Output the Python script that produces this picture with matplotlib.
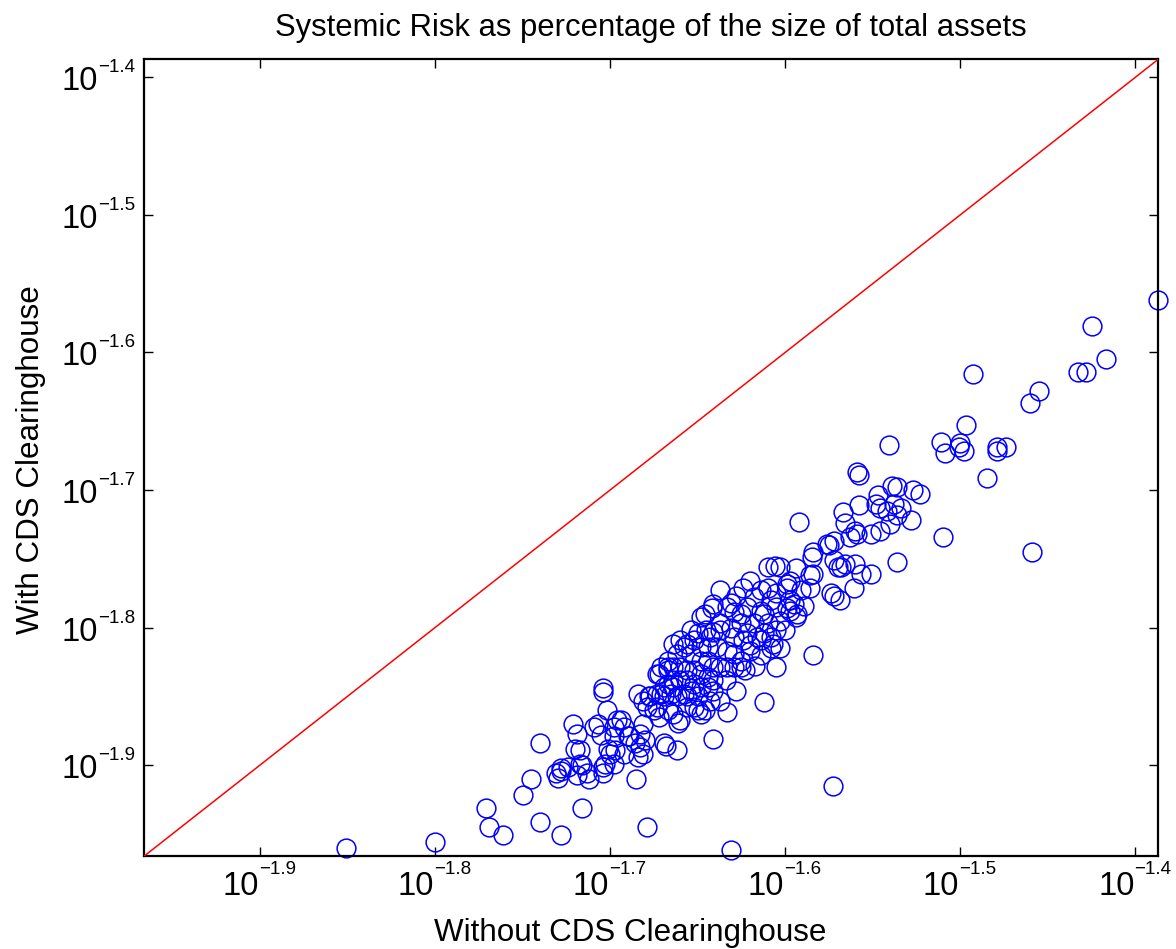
import numpy as np
import matplotlib
matplotlib.use("Agg")
import matplotlib.pyplot as plt
from matplotlib.ticker import FixedLocator, NullLocator, NullFormatter

plt.rcParams['font.family'] = ['Liberation Sans', 'DejaVu Sans']

# log10 of systemic risk, without (x) / with (y) the clearinghouse
x_exp = [
    -1.851, -1.800, -1.771, -1.769, -1.761, -1.750, -1.745, -1.740, -1.740, -1.728,
    -1.716, -1.679, -1.721, -1.719, -1.720, -1.717, -1.716, -1.731, -1.728, -1.730,
    -1.719, -1.712, -1.704, -1.704, -1.702, -1.707, -1.705, -1.698, -1.694, -1.701,
    -1.697, -1.703, -1.704, -1.698, -1.689, -1.686, -1.684, -1.685, -1.683, -1.680,
    -1.681, -1.684, -1.678, -1.668, -1.662, -1.672, -1.667, -1.671, -1.664, -1.658,
    -1.661, -1.650, -1.675, -1.672,
    # dense band
    -1.592, -1.567, -1.566, -1.572, -1.575, -1.584, -1.585, -1.572, -1.570, -1.566,
    -1.572, -1.569, -1.574, -1.584, -1.605, -1.612, -1.633, -1.641, -1.610, -1.606,
    -1.594, -1.586, -1.597, -1.599, -1.624, -1.614, -1.610, -1.605, -1.591, -1.586,
    -1.595, -1.589, -1.593, -1.594, -1.599, -1.605, -1.618, -1.622, -1.612, -1.625,
    -1.629, -1.631, -1.633, -1.641, -1.646, -1.642, -1.648, -1.637, -1.625, -1.618,
    -1.610, -1.603, -1.605, -1.612, -1.616, -1.608, -1.608, -1.603, -1.607, -1.622,
    -1.624, -1.629, -1.631, -1.637, -1.641, -1.643, -1.650, -1.652, -1.656, -1.648,
    -1.644, -1.639, -1.633, -1.629, -1.625, -1.625, -1.629, -1.633, -1.637, -1.641,
    -1.644, -1.648, -1.654, -1.658, -1.664, -1.662, -1.667, -1.671, -1.673, -1.667,
    -1.664, -1.660, -1.656, -1.652, -1.648, -1.644, -1.641, -1.644, -1.641, -1.648,
    -1.652, -1.656, -1.660, -1.664, -1.667, -1.669, -1.673, -1.677, -1.681, -1.679,
    -1.673, -1.667, -1.664, -1.660, -1.656, -1.652, -1.648, -1.646, -1.650, -1.656,
    -1.662, -1.665, -1.669, -1.709, -1.696, -1.692, -1.698, -1.690, -1.683, -1.681,
    -1.669, -1.692, -1.700, -1.704, -1.717, -1.724, -1.728, -1.713,
    -1.620, -1.614, -1.623, -1.617, -1.634, -1.628, -1.637, -1.654, -1.643, -1.614,
    -1.608, -1.620, -1.628, -1.637, -1.645, -1.654, -1.660, -1.614, -1.620, -1.600,
    # upper part of the band
    -1.460, -1.497, -1.511, -1.509, -1.500, -1.498, -1.501, -1.479, -1.474, -1.479,
    -1.485, -1.541, -1.558, -1.559, -1.510, -1.459, -1.536, -1.558, -1.547, -1.539,
    -1.536, -1.527, -1.523, -1.548, -1.546, -1.542, -1.538, -1.534, -1.536, -1.528,
    -1.540, -1.546, -1.551, -1.559, -1.560, -1.563, -1.576, -1.568, -1.560, -1.557,
    -1.551, -1.561, -1.584, -1.603, -1.599, -1.597, -1.597,
    # outliers
    -1.387, -1.425, -1.417, -1.428, -1.433, -1.455, -1.493, -1.573, -1.631,
]
y_exp = [
    -1.960, -1.956, -1.931, -1.945, -1.951, -1.922, -1.910, -1.884, -1.941, -1.951,
    -1.931, -1.945, -1.870, -1.877, -1.888, -1.889, -1.900, -1.906, -1.902, -1.909,
    -1.907, -1.910, -1.847, -1.844, -1.860, -1.870, -1.878, -1.872, -1.867, -1.888,
    -1.889, -1.899, -1.906, -1.899, -1.879, -1.884, -1.894, -1.910, -1.877, -1.882,
    -1.870, -1.848, -1.850, -1.886, -1.889, -1.834, -1.829, -1.848, -1.843, -1.848,
    -1.869, -1.860, -1.860, -1.865,
    # dense band
    -1.723, -1.716, -1.724, -1.737, -1.740, -1.745, -1.749, -1.751, -1.756, -1.754,
    -1.777, -1.780, -1.775, -1.820, -1.829, -1.854, -1.861, -1.881, -1.756, -1.755,
    -1.757, -1.762, -1.766, -1.771, -1.771, -1.773, -1.771, -1.775, -1.773, -1.771,
    -1.783, -1.784, -1.790, -1.792, -1.786, -1.785, -1.778, -1.785, -1.790, -1.790,
    -1.789, -1.782, -1.785, -1.783, -1.790, -1.786, -1.792, -1.797, -1.797, -1.797,
    -1.797, -1.795, -1.802, -1.804, -1.807, -1.807, -1.815, -1.815, -1.812, -1.804,
    -1.809, -1.807, -1.800, -1.802, -1.803, -1.807, -1.804, -1.809, -1.812, -1.814,
    -1.814, -1.814, -1.817, -1.819, -1.824, -1.829, -1.829, -1.829, -1.829, -1.829,
    -1.824, -1.824, -1.819, -1.814, -1.812, -1.819, -1.824, -1.829, -1.834, -1.831,
    -1.829, -1.829, -1.831, -1.831, -1.834, -1.836, -1.838, -1.843, -1.846, -1.843,
    -1.841, -1.838, -1.838, -1.838, -1.841, -1.843, -1.848, -1.850, -1.853, -1.858,
    -1.858, -1.860, -1.863, -1.867, -1.858, -1.858, -1.863, -1.860, -1.850, -1.850,
    -1.850, -1.848, -1.850, -1.872, -1.867, -1.872, -1.879, -1.879, -1.887, -1.892,
    -1.884, -1.892, -1.892, -1.901, -1.899, -1.901, -1.904, -1.906,
    -1.817, -1.820, -1.831, -1.828, -1.838, -1.846, -1.853, -1.846, -1.853, -1.788,
    -1.780, -1.766, -1.777, -1.773, -1.802, -1.802, -1.809, -1.809, -1.813, -1.802,
    # upper part of the band
    -1.637, -1.653, -1.665, -1.673, -1.666, -1.672, -1.669, -1.669, -1.669, -1.672,
    -1.691, -1.667, -1.689, -1.687, -1.734, -1.745, -1.752, -1.711, -1.704, -1.697,
    -1.698, -1.700, -1.703, -1.710, -1.713, -1.715, -1.710, -1.713, -1.718, -1.722,
    -1.725, -1.730, -1.732, -1.732, -1.730, -1.734, -1.739, -1.756, -1.754, -1.761,
    -1.761, -1.771, -1.761, -1.756, -1.768, -1.780, -1.788,
    # outliers
    -1.562, -1.581, -1.605, -1.614, -1.614, -1.628, -1.616, -1.915, -1.962,
]

lims_exp = [-1.966, -1.387]
tick_exp = [-1.9, -1.8, -1.7, -1.6, -1.5, -1.4]
tick_sup = ['\u22121.9', '\u22121.8', '\u22121.7', '\u22121.6', '\u22121.5', '\u22121.4']

x = 10.0 ** np.array(x_exp)
y = 10.0 ** np.array(y_exp)
lims = 10.0 ** np.array(lims_exp)
ticks = 10.0 ** np.array(tick_exp)

fig = plt.figure(figsize=(11.76, 9.49), dpi=100)
ax = fig.add_axes([0.1227, 0.098, 0.8622, 0.8395])

ax.plot(x, y, 'o', mfc='none', mec=(0, 0, 1), ms=13.5, mew=1.1, clip_on=False, zorder=2)
ax.plot(lims, lims, '-', color=(1, 0, 0), lw=1.1, zorder=3)

ax.set_xscale('log')
ax.set_yscale('log')
ax.set_xlim(lims)
ax.set_ylim(lims)

for axis in (ax.xaxis, ax.yaxis):
    axis.set_major_locator(FixedLocator(ticks))
    axis.set_minor_locator(NullLocator())
    axis.set_major_formatter(NullFormatter())
    axis.set_minor_formatter(NullFormatter())

ax.tick_params(which='both', direction='in', length=6.5, width=1.0,
               top=True, right=True)
for sp in ax.spines.values():
    sp.set_linewidth(1.6)

# MATLAB-style tick labels: big "10" with a small exponent
base_fs = 23.5
sup_fs = 13.5
for t, s in zip(ticks, tick_sup):
    ax.annotate('10', xy=(t, 0), xycoords=ax.get_xaxis_transform(),
                xytext=(-1, -39), textcoords='offset pixels',
                ha='right', va='baseline', fontsize=base_fs, annotation_clip=False)
    ax.annotate(s, xy=(t, 0), xycoords=ax.get_xaxis_transform(),
                xytext=(-1, -18), textcoords='offset pixels',
                ha='left', va='baseline', fontsize=sup_fs, annotation_clip=False)
    ax.annotate(s, xy=(0, t), xycoords=ax.get_yaxis_transform(),
                xytext=(-9, 5), textcoords='offset pixels',
                ha='right', va='baseline', fontsize=sup_fs, annotation_clip=False)
    ax.annotate('10', xy=(0, t), xycoords=ax.get_yaxis_transform(),
                xytext=(-46, -13), textcoords='offset pixels',
                ha='right', va='baseline', fontsize=base_fs, annotation_clip=False)

ax.set_title('Systemic Risk as percentage of the size of total assets', fontsize=22.3, pad=17)
ax.set_xlabel('Without CDS Clearinghouse', fontsize=22.6)
ax.set_ylabel('With CDS Clearinghouse', fontsize=22.6)
ax.xaxis.set_label_coords(0.479, -0.078)
ax.yaxis.set_label_coords(-0.097, 0.497)

fig.savefig('out.png', dpi=100)
